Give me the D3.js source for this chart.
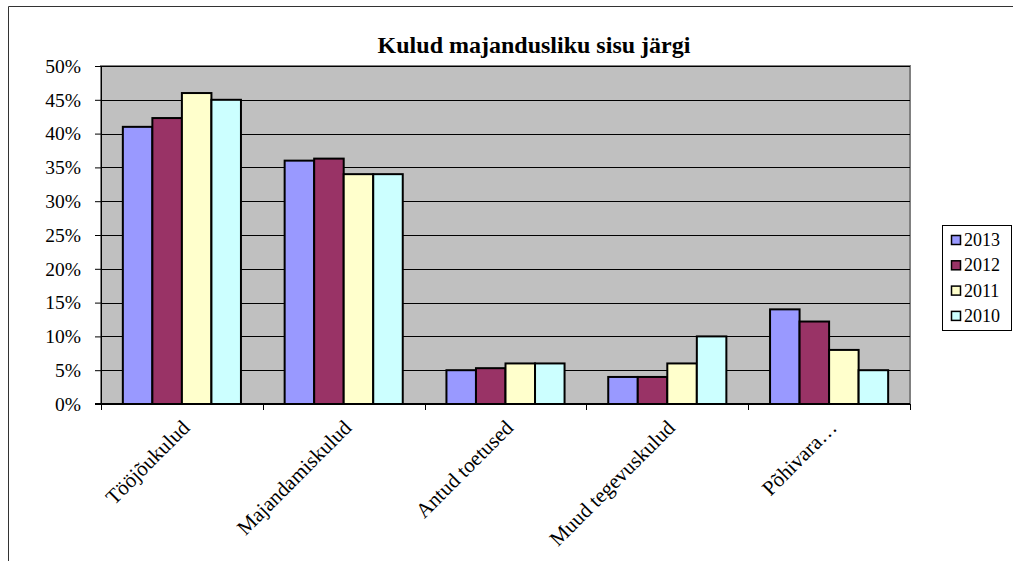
<!DOCTYPE html>
<html lang="et">
<head>
  <meta charset="UTF-8">
  <title>Kulud majandusliku sisu järgi</title>
  <script src="https://d3js.org/d3.v7.min.js"></script>
  <style>
    body { margin: 0; background: #fff; }
    svg text { font-family: "Liberation Serif", "Times New Roman", serif; fill: #000; }
  </style>
</head>
<body>
  <div id="chart"></div>
  <script>
    // andmed
    var categories = ["Tööjõukulud", "Majandamiskulud", "Antud toetused", "Muud tegevuskulud", "Põhivara…"];
    var years = ["2013", "2012", "2011", "2010"];
    var v2013 = [0.41, 0.36, 0.05, 0.04, 0.14];
    var v2012 = [0.423, 0.363, 0.053, 0.04, 0.122];
    var v2011 = [0.46, 0.34, 0.06, 0.06, 0.08];
    var v2010 = [0.45, 0.34, 0.06, 0.10, 0.05];
    var yTicks = [0, 0.05, 0.10, 0.15, 0.20, 0.25, 0.30, 0.35, 0.40, 0.45, 0.50];
    var colors = ["#9999FF", "#993366", "#FFFFCC", "#CCFFFF"];

    var series = [v2013, v2012, v2011, v2010];

    var W = 1013, H = 561;
    var plot = {left: 101, right: 910, top: 66, bottom: 404};

    var svg = d3.select("#chart").append("svg")
      .attr("width", W).attr("height", H);

    // valge raam
    svg.append("path")
      .attr("d", "M8.5," + H + "V6.5H" + W)
      .attr("fill", "none").attr("stroke", "#333").attr("stroke-width", 1);

    var x0 = d3.scaleBand().domain(categories).range([plot.left, plot.right]);
    var gap = x0.bandwidth() * 0.135;
    var x1 = d3.scaleBand().domain(years).range([gap, x0.bandwidth() - gap]);
    var y = d3.scaleLinear().domain([0, 0.5]).range([plot.bottom, plot.top]);

    // graafiku ala
    svg.append("rect")
      .attr("x", plot.left).attr("y", plot.top)
      .attr("width", plot.right - plot.left).attr("height", plot.bottom - plot.top)
      .attr("fill", "#C0C0C0").attr("stroke", "#808080").attr("stroke-width", 2);

    // ruudustik
    svg.append("g").selectAll("line")
      .data(yTicks.filter(function(d) { return d > 0; }))
      .enter().append("line")
      .attr("x1", plot.left).attr("x2", plot.right)
      .attr("y1", function(d) { return Math.round(y(d)) + 0.5; })
      .attr("y2", function(d) { return Math.round(y(d)) + 0.5; })
      .attr("stroke", "#000").attr("stroke-width", 1);

    // tulbad
    var groups = svg.append("g").selectAll("g")
      .data(categories).enter().append("g")
      .attr("transform", function(d) { return "translate(" + x0(d) + ",0)"; });

    groups.selectAll("rect")
      .data(function(d, i) { return years.map(function(yr, j) { return {year: yr, value: series[j][i], k: j}; }); })
      .enter().append("rect")
      .attr("x", function(d) { return x1(d.year); })
      .attr("y", function(d) { return y(d.value); })
      .attr("width", x1.bandwidth())
      .attr("height", function(d) { return plot.bottom - y(d.value); })
      .attr("fill", function(d) { return colors[d.k]; })
      .attr("stroke", "#000").attr("stroke-width", 2);

    // y telg
    var yAxis = svg.append("g")
      .attr("transform", "translate(" + plot.left + ",0)")
      .call(d3.axisLeft(y).tickValues(yTicks).tickFormat(d3.format(".0%")).tickSizeOuter(0).tickSize(6).tickPadding(14));
    yAxis.select(".domain").attr("stroke", "#000");
    yAxis.selectAll(".tick line").attr("stroke", "#000");
    yAxis.selectAll("text").style("font-size", "19.5px").attr("fill", "#000");

    // x telg
    var xAxis = svg.append("g")
      .attr("transform", "translate(0," + plot.bottom + ")");
    xAxis.append("line")
      .attr("x1", plot.left - 6).attr("x2", plot.right)
      .attr("stroke", "#000").attr("stroke-width", 2);
    xAxis.selectAll(".tk")
      .data(categories.map(function(c) { return x0(c); }).concat([plot.right]))
      .enter().append("line")
      .attr("x1", function(d) { return Math.round(d) + 0.5; })
      .attr("x2", function(d) { return Math.round(d) + 0.5; })
      .attr("y1", 0).attr("y2", 6)
      .attr("stroke", "#000");
    xAxis.selectAll(".lbl")
      .data(categories).enter().append("text")
      .attr("text-anchor", "end")
      .attr("transform", function(d) {
        return "translate(" + (x0(d) + x0.bandwidth() / 2 + 9) + ",25) rotate(-45)";
      })
      .style("font-size", "21px")
      .text(function(d) { return d; });

    // pealkiri
    svg.append("text")
      .attr("x", 534).attr("y", 53)
      .attr("text-anchor", "middle")
      .style("font-size", "24px").style("font-weight", "bold")
      .text("Kulud majandusliku sisu järgi");

    // legend
    var legend = svg.append("g").attr("transform", "translate(942,225)");
    legend.append("rect")
      .attr("x", 0.5).attr("y", 0.5).attr("width", 69).attr("height", 105)
      .attr("fill", "#fff").attr("stroke", "#000");
    var li = legend.selectAll(".li").data(years).enter().append("g")
      .attr("transform", function(d, i) { return "translate(0," + (15 + i * 25.3) + ")"; });
    li.append("rect")
      .attr("x", 9.5).attr("y", -4.5).attr("width", 9).attr("height", 9)
      .attr("fill", function(d, i) { return colors[i]; })
      .attr("stroke", "#000").attr("stroke-width", 1.5);
    li.append("text")
      .attr("x", 22).attr("y", 6)
      .style("font-size", "18px")
      .text(function(d) { return d; });
  </script>
</body>
</html>
